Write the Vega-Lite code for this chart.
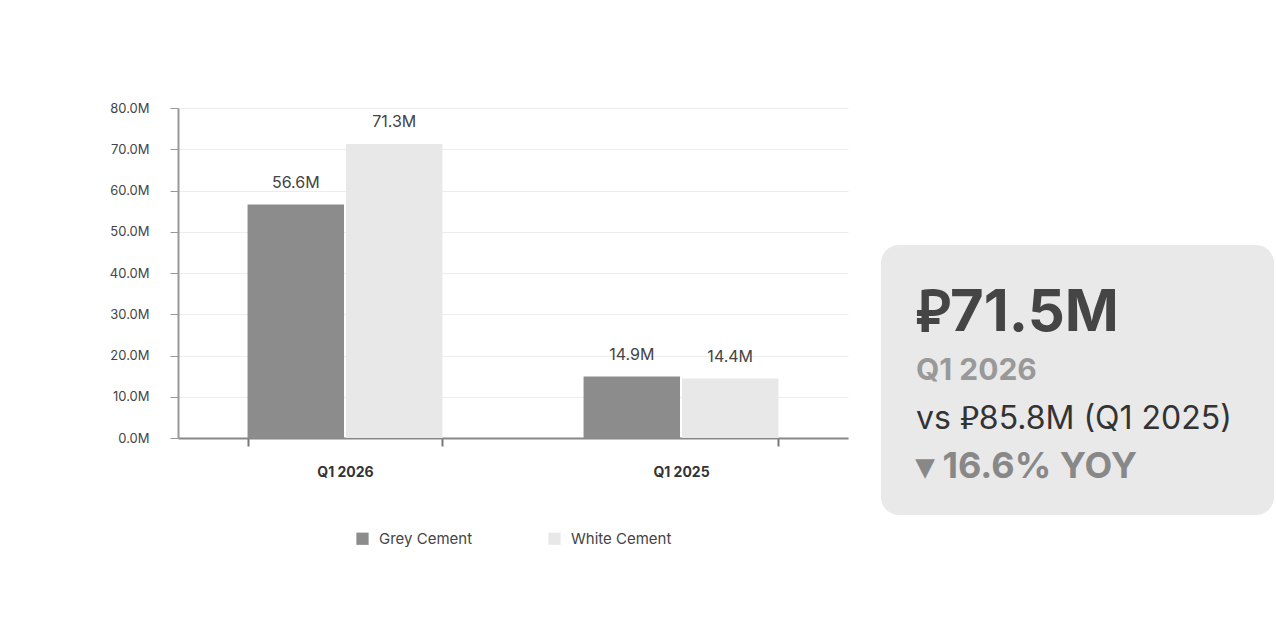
{
  "$schema": "https://vega.github.io/schema/vega-lite/v6.json",
  "background": "white",
  "padding": {"left": 109, "top": 102, "right": 0, "bottom": 0},
  "config": {"font": "Inter", "view": {"stroke": null}, "legend": {"layout": {"bottom": {"anchor": "middle"}}}},
  "spacing": 33,
  "resolve": {"legend": {"color": "independent"}},
  "hconcat": [
    {
      "width": 670,
      "height": 330,
      "data": {"values": [
        {"quarter": "Q1 2026", "type": "Grey Cement", "value": 56600000},
        {"quarter": "Q1 2026", "type": "White Cement", "value": 71300000},
        {"quarter": "Q1 2025", "type": "Grey Cement", "value": 14900000},
        {"quarter": "Q1 2025", "type": "White Cement", "value": 14400000}
      ]},
      "encoding": {
        "x": {
          "field": "quarter", "type": "nominal", "sort": ["Q1 2026", "Q1 2025"],
          "scale": {"paddingInner": 0.42, "paddingOuter": 0.207},
          "axis": {"title": null, "labelAngle": 0, "labelFontWeight": "bold", "labelFontSize": 14, "labelColor": "#333",
                   "labelPadding": 19, "tickBand": "extent", "tickColor": "#777", "tickWidth": 2, "tickSize": 8,
                   "domainColor": "#888", "domainWidth": 2, "grid": false}
        },
        "xOffset": {"field": "type", "sort": ["Grey Cement", "White Cement"], "scale": {"paddingInner": 0.02}},
        "y": {
          "field": "value", "type": "quantitative",
          "scale": {"domain": [0, 80000000], "nice": false},
          "axis": {"title": null, "values": [0, 10000000, 20000000, 30000000, 40000000, 50000000, 60000000, 70000000, 80000000],
                   "labelExpr": "format(datum.value / 1000000, '.1f') + 'M'", "labelFontSize": 13, "labelColor": "#444",
                   "labelPadding": 21, "tickSize": 8, "tickColor": "#999", "domainColor": "#999", "domainWidth": 2,
                   "gridColor": "#ededed", "gridWidth": 1}
        }
      },
      "layer": [
        {
          "mark": {"type": "bar"},
          "encoding": {
            "color": {
              "field": "type", "type": "nominal",
              "scale": {"domain": ["Grey Cement", "White Cement"], "range": ["#8c8c8c", "#e8e8e8"]},
              "legend": {"title": null, "orient": "bottom", "direction": "horizontal", "symbolType": "square", "symbolSize": 150, "labelFontSize": 15,
                         "labelColor": "#444", "columnPadding": 74, "labelOffset": 9, "offset": 52}
            }
          }
        },
        {
          "mark": {"type": "text", "baseline": "bottom", "dy": -14, "fontSize": 16, "color": "#444"},
          "encoding": {"text": {"field": "value", "type": "quantitative", "format": ".3s"}}
        }
      ]
    },
    {
      "spacing": 0,
      "vconcat": [
        {
          "width": 393,
          "height": 137,
          "data": {"values": [{"blank": ""}]},
          "mark": {"type": "text"},
          "encoding": {"text": {"field": "blank"}}
        },
        {
          "width": 393,
          "height": 270,
          "view": {"fill": "#e9e9e9", "cornerRadius": 18, "stroke": null},
          "data": {"values": [
            {"line": 0, "text": "\u20c171.5M", "kind": "value"},
            {"line": 1, "text": "Q1 2026", "kind": "period"},
            {"line": 2, "text": "vs \u20c185.8M (Q1 2025)", "kind": "compare"},
            {"line": 3, "text": "\u25be 16.6% YOY", "kind": "change"}
          ]},
          "encoding": {
            "x": {"datum": 0, "type": "quantitative", "scale": {"domain": [-0.089, 0.911], "nice": false, "zero": false}, "axis": null},
            "y": {"field": "line", "type": "quantitative", "scale": {"domain": [-1.744, 3.753], "reverse": true, "nice": false, "zero": false}, "axis": null},
            "text": {"field": "text"}
          },
          "layer": [
            {"transform": [{"filter": "datum.kind == 'value'"}],
             "mark": {"type": "text", "align": "left", "baseline": "alphabetic", "fontSize": 58, "fontWeight": "bold", "color": "#454545"}},
            {"transform": [{"filter": "datum.kind == 'period'"}],
             "mark": {"type": "text", "align": "left", "baseline": "alphabetic", "fontSize": 30, "fontWeight": "bold", "color": "#999"}},
            {"transform": [{"filter": "datum.kind == 'compare'"}],
             "mark": {"type": "text", "align": "left", "baseline": "alphabetic", "fontSize": 32, "color": "#333"}},
            {"transform": [{"filter": "datum.kind == 'change'"}],
             "mark": {"type": "text", "align": "left", "baseline": "alphabetic", "fontSize": 36, "fontWeight": "bold", "color": "#888"}}
          ]
        }
      ]
    }
  ]
}
